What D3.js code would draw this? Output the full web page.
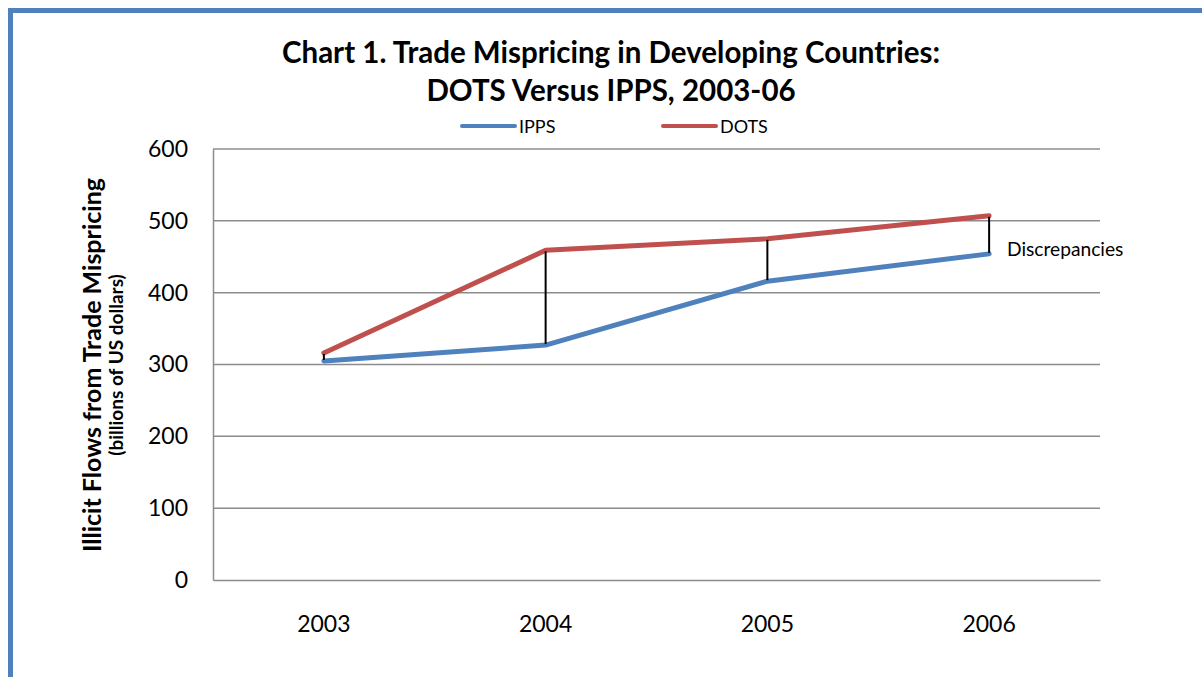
<!DOCTYPE html>
<html>
<head>
<meta charset="utf-8">
<script src="https://cdn.jsdelivr.net/npm/d3@7"></script>
<style>
  html, body { margin: 0; padding: 0; background: #fff; }
  svg { display: block; }
  text { font-family: Lato, "Open Sans", "Noto Sans", sans-serif; fill: #000; }
</style>
</head>
<body>
<svg id="chart" width="1202" height="677"></svg>
<script>
// Trade mispricing estimates, billions of US dollars
const years = ["2003", "2004", "2005", "2006"];
const ipps = [305, 327, 416, 454];
const dots = [316, 459, 475, 507];
const yTicks = [0, 100, 200, 300, 400, 500, 600];
const seriesNames = ["IPPS", "DOTS"];
const seriesColors = ["#4f81bd", "#c0504d"];

const svg = d3.select("#chart");
const W = 1202, H = 677;
const FONT = "Lato, 'Open Sans', sans-serif";

// Outer frame
svg.append("rect")
  .attr("x", 10.5).attr("y", 10.5)
  .attr("width", W + 20).attr("height", H + 20)
  .attr("fill", "none").attr("stroke", "#4f81bd").attr("stroke-width", 5);

const plot = { left: 213, right: 1100, top: 149, bottom: 580 };

const x = d3.scaleBand().domain(years).range([plot.left, plot.right]);
const y = d3.scaleLinear().domain([0, 600]).range([plot.bottom, plot.top]);
const cx = d => x(d) + x.bandwidth() / 2;

// Title
const title = svg.append("text")
  .attr("text-anchor", "middle")
  .attr("font-size", 29.5).attr("font-weight", "bold");
title.append("tspan").attr("x", 611).attr("y", 63)
  .text("Chart 1. Trade Mispricing in Developing Countries:");
title.append("tspan").attr("x", 611).attr("y", 101)
  .text("DOTS Versus IPPS, 2003-06");

// Gridlines
svg.append("g").selectAll("line").data(yTicks.filter(t => t > 0)).join("line")
  .attr("x1", plot.left).attr("x2", plot.right)
  .attr("y1", d => y(d)).attr("y2", d => y(d))
  .attr("stroke", "#8c8c8c").attr("stroke-width", 1.5);

// Y axis
const yAxis = svg.append("g")
  .attr("transform", `translate(${plot.left},0)`)
  .call(d3.axisLeft(y).tickValues(yTicks).tickSize(0).tickPadding(25));
yAxis.select(".domain").attr("stroke", "#8c8c8c").attr("stroke-width", 1.5);
yAxis.selectAll("text").attr("font-size", 23).attr("font-family", FONT);

// X axis
const xAxis = svg.append("g")
  .attr("transform", `translate(0,${plot.bottom})`)
  .call(d3.axisBottom(x).tickSize(0).tickPadding(36));
xAxis.select(".domain").attr("stroke", "#8c8c8c").attr("stroke-width", 1.5);
xAxis.selectAll("text").attr("font-size", 23).attr("font-family", FONT);

// Y axis title
svg.append("text")
  .attr("transform", "translate(101,365) rotate(-90)")
  .attr("text-anchor", "middle")
  .attr("font-size", 25).attr("font-weight", "bold")
  .text("Illicit Flows from Trade Mispricing");
svg.append("text")
  .attr("transform", "translate(123,365) rotate(-90)")
  .attr("text-anchor", "middle")
  .attr("font-size", 19).attr("font-weight", "bold")
  .text("(billions of US dollars)");

// Series lines
const line = d3.line().x((d, i) => cx(years[i])).y(d => y(d));
[ipps, dots].forEach((vals, k) => {
  svg.append("path").datum(vals)
    .attr("d", line)
    .attr("fill", "none")
    .attr("stroke", seriesColors[k])
    .attr("stroke-width", 5)
    .attr("stroke-linecap", "round")
    .attr("stroke-linejoin", "round");
});

// Discrepancy connectors between the two series
svg.append("g").selectAll("line").data(years).join("line")
  .attr("x1", d => cx(d)).attr("x2", d => cx(d))
  .attr("y1", (d, i) => y(dots[i]) + 1).attr("y2", (d, i) => y(ipps[i]) - 1)
  .attr("stroke", "#000").attr("stroke-width", 2);

// Annotation
svg.append("text")
  .attr("x", 1007).attr("y", 256)
  .attr("font-size", 19.2)
  .text("Discrepancies");

// Legend
const legendX = [462, 663];
seriesNames.forEach((name, k) => {
  svg.append("line")
    .attr("x1", legendX[k]).attr("x2", legendX[k] + 53)
    .attr("y1", 126).attr("y2", 126)
    .attr("stroke", seriesColors[k]).attr("stroke-width", 4)
    .attr("stroke-linecap", "round");
  svg.append("text")
    .attr("x", legendX[k] + 57).attr("y", 133)
    .attr("font-size", 18)
    .text(name);
});
</script>
</body>
</html>
